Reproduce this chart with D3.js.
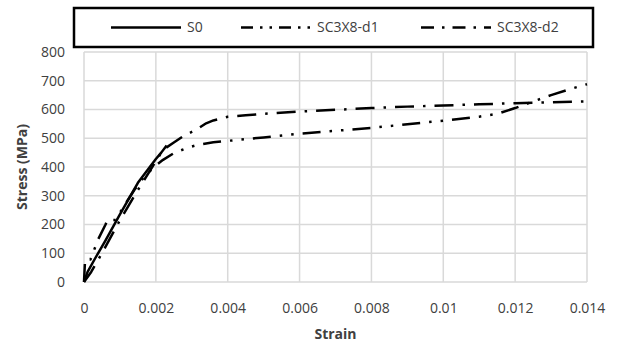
<!DOCTYPE html>
<html>
<head>
<meta charset="utf-8">
<script src="https://cdn.jsdelivr.net/npm/d3@7"></script>
<style>
  html, body { margin: 0; padding: 0; background: #fff; }
  svg { display: block; }
  text { font-family: "Open Sans", "Liberation Sans", sans-serif; fill: #404040; }
</style>
</head>
<body>
<svg id="chart" width="621" height="347"></svg>
<script>
// Stress–strain curves: strain (mm/mm) vs stress (MPa)
const seriesNames = ["S0", "SC3X8-d1", "SC3X8-d2"];

const s0Strain = [0, 0.0001, 0.0003, 0.0006, 0.001, 0.0015, 0.0018, 0.002, 0.00215, 0.0023];
const s0Stress = [0, 35, 80, 145, 235, 345, 395, 428, 450, 475];

const d1Strain = [0, 0.00003, 0.00018, 0.0004, 0.0006, 0.00065, 0.00088, 0.0011, 0.0014, 0.0017, 0.002, 0.0022,
                  0.0025, 0.0029, 0.0032, 0.0036, 0.004, 0.0045, 0.005, 0.006, 0.007, 0.008, 0.009, 0.01,
                  0.011, 0.0115, 0.012, 0.0125, 0.013, 0.0135, 0.014];
const d1Stress = [0, 78, 78, 150, 200, 216, 216, 262, 320, 370, 405, 425,
                  448, 468, 478, 486, 491, 497, 503, 516, 526, 536, 549, 561,
                  575, 585, 605, 628, 650, 670, 688];

const d2Strain = [0, 0.0002, 0.0005, 0.001, 0.0015, 0.002, 0.0022, 0.0025, 0.0028, 0.0031, 0.0034, 0.0036,
                  0.004, 0.0045, 0.005, 0.006, 0.007, 0.008, 0.009, 0.01, 0.011, 0.012, 0.013, 0.014];
const d2Stress = [0, 35, 100, 215, 320, 420, 460, 485, 510, 528, 552, 562,
                  575, 580, 585, 593, 599, 605, 610, 614, 618, 622, 625, 628];

const xTicks = [0, 0.002, 0.004, 0.006, 0.008, 0.01, 0.012, 0.014];
const yTicks = [0, 100, 200, 300, 400, 500, 600, 700, 800];

const svg = d3.select("#chart");
const plot = { left: 84, right: 587, top: 52, bottom: 282 };

const x = d3.scaleLinear().domain([0, 0.014]).range([plot.left, plot.right]);
const y = d3.scaleLinear().domain([0, 800]).range([plot.bottom, plot.top]);

// Gridlines
const grid = svg.append("g").attr("stroke", "#d9d9d9").attr("stroke-width", 1.5);
grid.selectAll("line.h").data(yTicks).join("line")
  .attr("x1", plot.left).attr("x2", plot.right)
  .attr("y1", d => y(d)).attr("y2", d => y(d));
grid.selectAll("line.v").data(xTicks).join("line")
  .attr("y1", plot.top).attr("y2", plot.bottom)
  .attr("x1", d => x(d)).attr("x2", d => x(d));

// Axes (labels only, no domain lines or ticks)
const xAxis = svg.append("g").attr("transform", `translate(0,${plot.bottom + 20})`)
  .call(d3.axisBottom(x).tickValues(xTicks).tickSize(0).tickFormat(d => d3.format("")(+d.toFixed(3))));
const yAxis = svg.append("g").attr("transform", `translate(${plot.left - 16},0)`)
  .call(d3.axisLeft(y).tickValues(yTicks).tickSize(0));
[xAxis, yAxis].forEach(a => {
  a.select(".domain").remove();
  a.selectAll("text").style("font-family", '"Open Sans", sans-serif')
    .style("font-size", "14px").attr("fill", "#404040");
});
xAxis.selectAll("text").attr("dy", "0.75em").attr("y", 0);

// Axis titles
svg.append("text").attr("x", (plot.left + plot.right) / 2).attr("y", 339)
  .attr("text-anchor", "middle").style("font-size", "14px").style("font-weight", "bold")
  .attr("fill", "#262626").text("Strain");
svg.append("text").attr("transform", `translate(27,${(plot.top + plot.bottom) / 2}) rotate(-90)`)
  .attr("text-anchor", "middle").style("font-size", "14px").style("font-weight", "bold")
  .attr("fill", "#262626").text("Stress (MPa)");

// Curves
const dashes = ["none", "18,9,2.5,9,2.5,9", "19,9,2.5,9"];
const series = [
  { name: seriesNames[0], strain: s0Strain, stress: s0Stress, dash: dashes[0] },
  { name: seriesNames[1], strain: d1Strain, stress: d1Stress, dash: dashes[1] },
  { name: seriesNames[2], strain: d2Strain, stress: d2Stress, dash: dashes[2] }
];
const line = d3.line().x(d => x(d[0])).y(d => y(d[1])).curve(d3.curveLinear);

svg.append("g").selectAll("path").data(series).join("path")
  .attr("d", s => line(d3.zip(s.strain, s.stress)))
  .attr("fill", "none").attr("stroke", "#000").attr("stroke-width", 2.5)
  .attr("stroke-linejoin", "round")
  .attr("stroke-dasharray", s => s.dash);

// Legend
const legend = svg.append("g");
legend.append("rect").attr("x", 74).attr("y", 8).attr("width", 519).attr("height", 39)
  .attr("fill", "#fff").attr("stroke", "#000").attr("stroke-width", 2.5);
const legendX = [111, 241, 421];
const legendDash = ["none", "12,7,2.5,7,2.5,7", "13,8,2.5,8"];
series.forEach((s, i) => {
  legend.append("line").attr("x1", legendX[i]).attr("x2", legendX[i] + 70)
    .attr("y1", 27.5).attr("y2", 27.5)
    .attr("stroke", "#000").attr("stroke-width", 2.5).attr("stroke-dasharray", legendDash[i]);
  legend.append("text").attr("x", legendX[i] + 76).attr("y", 27.5).attr("dy", "0.35em")
    .style("font-size", "14px").attr("fill", "#404040").text(s.name);
});
</script>
</body>
</html>
